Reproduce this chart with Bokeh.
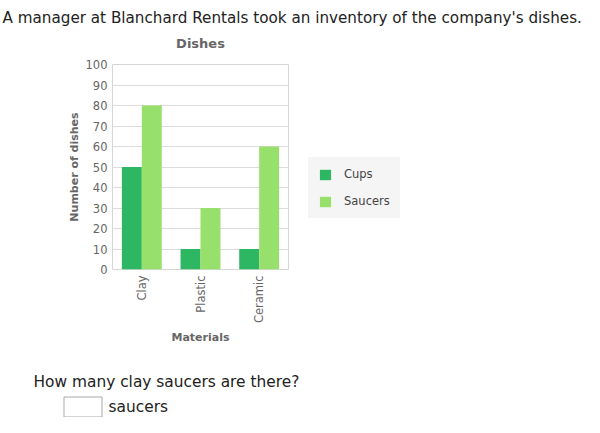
import math
from bokeh.plotting import figure
from bokeh.layouts import column, row
from bokeh.embed import file_html
from bokeh.resources import INLINE
from bokeh.models import (ColumnDataSource, FixedTicker, Legend, LegendItem, Label,
                          BoxAnnotation, Range1d)
from bokeh.transform import dodge

# === Data === #
materials = ["Clay", "Plastic", "Ceramic"]
cups = [50, 10, 10]
saucers = [80, 30, 60]
y_ticks = [0, 10, 20, 30, 40, 50, 60, 70, 80, 90, 100]
series = ["Cups", "Saucers"]

header_text = "A manager at Blanchard Rentals took an inventory of the company's dishes."
chart_title = "Dishes"
question_text = "How many clay saucers are there?"
unit_text = "saucers"

FONT = "DejaVu Sans"
CUPS_COLOR = "#2db763"
SAUCERS_COLOR = "#97e06b"
GRAY = "#666666"
TEXT = "#222222"
LEGEND_BG = "#f5f5f5"

W = 584
CHART_W, CHART_H = 300, 296


def blank(width, height):
    """Figure whose frame fills it; data units are pixels measured from the top left."""
    f = figure(width=width, height=height, toolbar_location=None, output_backend="svg",
               x_range=Range1d(0, width), y_range=Range1d(height, 0), min_border=0)
    f.axis.visible = False
    f.grid.grid_line_color = None
    f.outline_line_color = None
    return f


def text(f, x, y, s, size="15px", color=TEXT, style="normal", align="left"):
    f.add_layout(Label(x=x, y=y, text=s, text_font=FONT, text_font_size=size,
                       text_color=color, text_font_style=style,
                       text_baseline="middle", text_align=align))


# === Header + chart title === #
top = blank(W, 54)
text(top, 2, 17, header_text, size="15.2px")
text(top, 200, 43, chart_title, size="13px", color=GRAY, style="bold", align="center")

# === Chart === #
source = ColumnDataSource(data=dict(material=materials, cups=cups, saucers=saucers))

p = figure(x_range=materials, y_range=(0, 100), width=CHART_W, height=CHART_H,
           toolbar_location=None, output_backend="svg",
           min_border_left=112, min_border_right=12,
           min_border_top=10, min_border_bottom=81)
p.outline_line_color = "#d6d6d6"
p.x_range.range_padding = 0

p.vbar(x=dodge("material", -0.17, range=p.x_range), top="cups", width=0.34,
       fill_color=CUPS_COLOR, line_color=None, source=source)
p.vbar(x=dodge("material", 0.17, range=p.x_range), top="saucers", width=0.34,
       fill_color=SAUCERS_COLOR, line_color=None, source=source)

p.xgrid.grid_line_color = None
p.ygrid.grid_line_color = "#dcdcdc"
p.yaxis.ticker = FixedTicker(ticks=y_ticks)

for ax in (p.xaxis[0], p.yaxis[0]):
    ax.axis_line_color = None
    ax.major_tick_line_color = None
    ax.minor_tick_line_color = None
    ax.major_tick_out = 0
    ax.major_tick_in = 0
    ax.major_label_text_font = FONT
    ax.major_label_text_font_size = "11.5px"
    ax.major_label_text_color = GRAY
    ax.axis_label_text_font = FONT
    ax.axis_label_text_font_size = "11px"
    ax.axis_label_text_font_style = "bold"
    ax.axis_label_text_color = GRAY

p.yaxis.axis_label = "Number of dishes"
p.yaxis.major_label_standoff = 5
p.yaxis.axis_label_standoff = 2
p.xaxis.axis_label = "Materials"
p.xaxis.major_label_orientation = math.pi / 2
p.xaxis.major_label_standoff = 6
p.xaxis.axis_label_standoff = 5

# === Legend (own figure beside the chart; frames are aligned by the row) === #
side = blank(W - CHART_W, CHART_H)
side.y_range = Range1d(0, CHART_H)
keys = [side.vbar(x=col, top=col, width=1, fill_color=c, line_color=None,
                  source=source, visible=False)
        for col, c in (("cups", CUPS_COLOR), ("saucers", SAUCERS_COLOR))]
# padding is only applied when the legend has a border, so give it one in the bg colour
legend = Legend(items=[LegendItem(label=s, renderers=[r]) for s, r in zip(series, keys)],
                location=(8, 51), margin=0, padding=9,
                glyph_width=14, glyph_height=13, label_height=13, spacing=13,
                label_standoff=12, label_text_font=FONT, label_text_font_size="11.5px",
                label_text_color="#444444", background_fill_color=LEGEND_BG,
                background_fill_alpha=1.0, border_line_color=LEGEND_BG)
side.add_layout(legend, "center")

# === Question === #
bottom = blank(W, 67)
text(bottom, 33, 31, question_text, size="15.4px")
bottom.add_layout(BoxAnnotation(left=63.5, right=101.5, top=46.5, bottom=66.5,
                                fill_color="white", fill_alpha=1.0,
                                line_color="#a8a8a8", line_alpha=1.0, line_width=1))
text(bottom, 108, 56.5, unit_text, size="15.4px")

layout = column(top, row(p, side), bottom)
open("out.html", "w").write(file_html(layout, INLINE))
